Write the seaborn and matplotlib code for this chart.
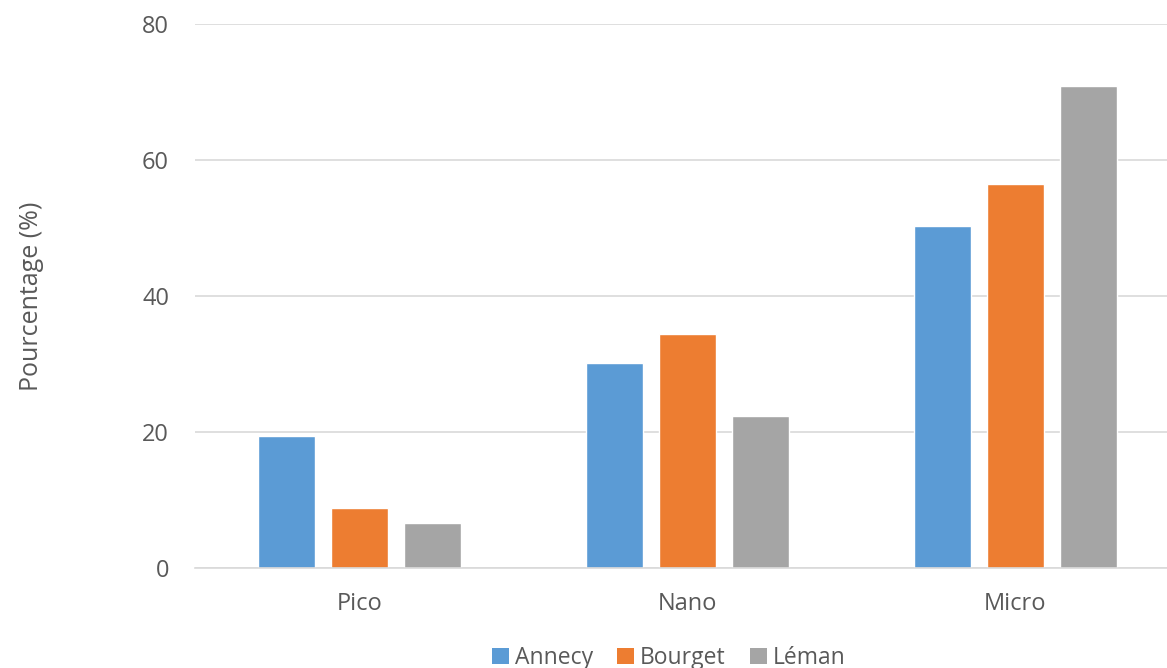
import matplotlib
matplotlib.use("Agg")
import matplotlib.pyplot as plt
import seaborn as sns
import pandas as pd
from matplotlib.patches import Patch

categories = ["Pico", "Nano", "Micro"]
lakes = ["Annecy", "Bourget", "Léman"]
annecy = [19.4, 30.1, 50.3]
bourget = [8.8, 34.4, 56.4]
leman = [6.6, 22.3, 70.8]
yticks = [0, 20, 40, 60, 80]

colors = ["#5B9BD5", "#ED7D31", "#A5A5A5"]
text_color = "#595959"
grid_color = "#D9D9D9"

rows = []
for lake, vals in zip(lakes, [annecy, bourget, leman]):
    for cat, v in zip(categories, vals):
        rows.append({"Classe": cat, "Lac": lake, "Valeur": v})
df = pd.DataFrame(rows)

sns.set_theme(style="white")
plt.rcParams["font.family"] = ["Open Sans", "DejaVu Sans"]

fig = plt.figure(figsize=(11.67, 6.68), dpi=100)
# the plot area runs slightly past the right edge of the figure
ax = fig.add_axes([0.1675, 0.1497, 0.8432, 0.8147])

sns.barplot(data=df, x="Classe", y="Valeur", hue="Lac", order=categories,
            hue_order=lakes, palette=colors, width=0.668, gap=0.218,
            saturation=1, legend=False, ax=ax, errorbar=None)

ax.set_xlim(-0.5, 2.5)
ax.set_ylim(0, 80)
ax.set_yticks(yticks)
ax.yaxis.grid(True, color=grid_color, linewidth=1.2)
ax.set_axisbelow(True)
for s in ["top", "right", "left"]:
    ax.spines[s].set_visible(False)
ax.spines["bottom"].set_color(grid_color)
ax.spines["bottom"].set_linewidth(1.2)
ax.tick_params(axis="both", length=0, labelsize=17, colors=text_color)
ax.tick_params(axis="y", pad=19)
ax.tick_params(axis="x", pad=17)
ax.set_xlabel("")
ax.set_ylabel("Pourcentage (%)", fontsize=18, color=text_color)
ax.yaxis.set_label_coords(-0.154, 0.5)

handles = [Patch(facecolor=c, edgecolor="none") for c in colors]
fig.legend(handles, lakes, loc="lower center", bbox_to_anchor=(0.573, -0.034),
           ncol=3, frameon=False, fontsize=16.5, labelcolor=text_color,
           handlelength=0.75, handleheight=0.75, handletextpad=0.25,
           columnspacing=1.05)

fig.savefig("out.png", dpi=100)
